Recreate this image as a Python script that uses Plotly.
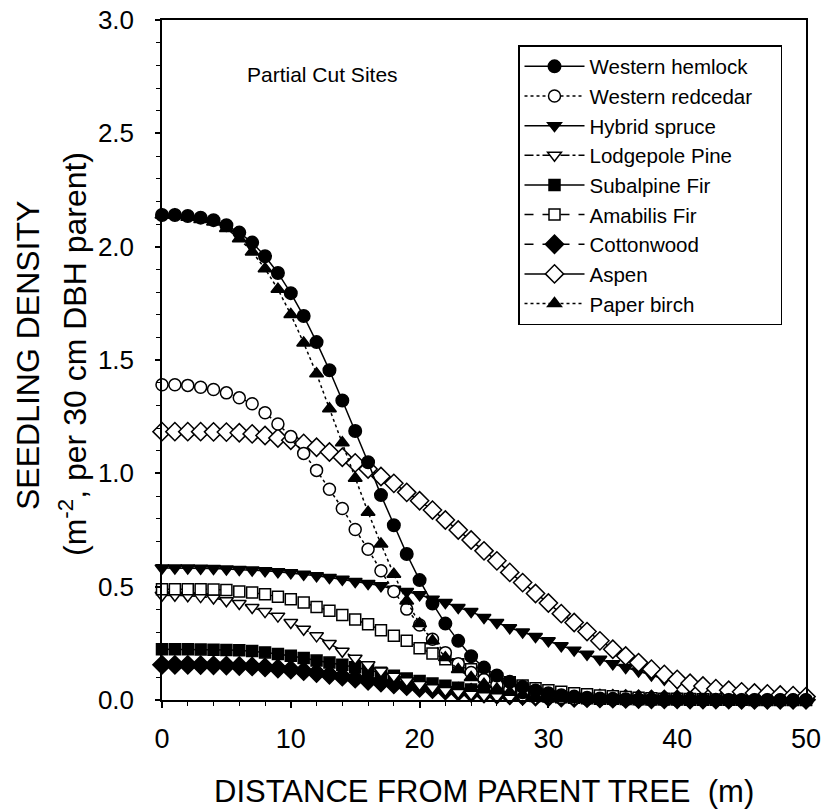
import plotly.graph_objects as go

distance = list(range(0, 51))

western_hemlock = [2.140, 2.140, 2.135, 2.128, 2.117, 2.095, 2.062, 2.018, 1.958, 1.884,
                   1.795, 1.694, 1.579, 1.455, 1.321, 1.187, 1.049, 0.904, 0.771, 0.644,
                   0.529, 0.426, 0.337, 0.261, 0.193, 0.143, 0.108, 0.080, 0.058, 0.042,
                   0.030, 0.021, 0.015, 0.010, 0.007, 0.005, 0.003, 0.002, 0.002, 0.001,
                   0.001, 0.001, 0.001, 0.001, 0.000, 0.000, 0.000, 0.000, 0.000, 0.000, 0.000]
western_redcedar = [1.391, 1.391, 1.388, 1.380, 1.370, 1.355, 1.333, 1.307, 1.267, 1.218,
                    1.162, 1.088, 1.013, 0.930, 0.845, 0.752, 0.665, 0.570, 0.479, 0.401,
                    0.331, 0.268, 0.209, 0.160, 0.121, 0.090, 0.066, 0.047, 0.033, 0.023,
                    0.016, 0.011, 0.007, 0.005, 0.003, 0.002, 0.001, 0.001, 0.001, 0.001,
                    0.000, 0.000, 0.000, 0.000, 0.000, 0.000, 0.000, 0.000, 0.000, 0.000, 0.000]
hybrid_spruce = [0.582, 0.582, 0.582, 0.581, 0.580, 0.578, 0.576, 0.573, 0.570, 0.566,
                 0.561, 0.555, 0.548, 0.540, 0.533, 0.523, 0.514, 0.504, 0.489, 0.479,
                 0.464, 0.445, 0.430, 0.408, 0.390, 0.364, 0.342, 0.319, 0.300, 0.280,
                 0.261, 0.239, 0.220, 0.202, 0.180, 0.160, 0.143, 0.128, 0.110, 0.091,
                 0.076, 0.062, 0.050, 0.040, 0.033, 0.027, 0.022, 0.018, 0.015, 0.012, 0.010]
lodgepole_pine = [0.462, 0.462, 0.460, 0.456, 0.450, 0.438, 0.426, 0.408, 0.390, 0.370,
                  0.342, 0.312, 0.283, 0.249, 0.215, 0.184, 0.155, 0.128, 0.105, 0.085,
                  0.068, 0.054, 0.042, 0.033, 0.025, 0.019, 0.014, 0.010, 0.008, 0.006,
                  0.004, 0.003, 0.002, 0.001, 0.001, 0.001, 0.001, 0.000, 0.000, 0.000,
                  0.000, 0.000, 0.000, 0.000, 0.000, 0.000, 0.000, 0.000, 0.000, 0.000, 0.000]
subalpine_fir = [0.224, 0.224, 0.224, 0.223, 0.222, 0.221, 0.219, 0.216, 0.210, 0.203,
                 0.195, 0.185, 0.174, 0.165, 0.155, 0.144, 0.132, 0.120, 0.107, 0.095,
                 0.084, 0.073, 0.063, 0.054, 0.046, 0.039, 0.033, 0.027, 0.022, 0.018,
                 0.015, 0.012, 0.010, 0.008, 0.006, 0.005, 0.004, 0.003, 0.002, 0.002,
                 0.002, 0.001, 0.001, 0.001, 0.001, 0.001, 0.000, 0.000, 0.000, 0.000, 0.000]
amabilis_fir = [0.489, 0.489, 0.489, 0.489, 0.488, 0.485, 0.479, 0.474, 0.467, 0.455,
                0.445, 0.430, 0.410, 0.394, 0.375, 0.355, 0.334, 0.308, 0.283, 0.261,
                0.228, 0.205, 0.180, 0.158, 0.136, 0.114, 0.096, 0.078, 0.064, 0.052,
                0.043, 0.036, 0.030, 0.025, 0.020, 0.016, 0.013, 0.010, 0.008, 0.006,
                0.005, 0.004, 0.003, 0.003, 0.002, 0.002, 0.002, 0.002, 0.002, 0.002, 0.002]
cottonwood = [0.155, 0.155, 0.155, 0.154, 0.153, 0.152, 0.150, 0.148, 0.144, 0.139,
              0.134, 0.127, 0.119, 0.111, 0.103, 0.094, 0.085, 0.077, 0.069, 0.061,
              0.054, 0.048, 0.042, 0.037, 0.032, 0.028, 0.024, 0.021, 0.018, 0.015,
              0.013, 0.011, 0.009, 0.008, 0.007, 0.006, 0.005, 0.004, 0.003, 0.003,
              0.003, 0.002, 0.002, 0.002, 0.002, 0.001, 0.001, 0.001, 0.001, 0.001, 0.001]
aspen = [1.184, 1.184, 1.184, 1.184, 1.183, 1.182, 1.179, 1.174, 1.167, 1.156,
         1.146, 1.132, 1.115, 1.094, 1.071, 1.046, 1.019, 0.986, 0.956, 0.916,
         0.879, 0.838, 0.794, 0.750, 0.706, 0.658, 0.614, 0.563, 0.518, 0.470,
         0.428, 0.381, 0.342, 0.302, 0.261, 0.224, 0.194, 0.165, 0.136, 0.113,
         0.091, 0.074, 0.062, 0.050, 0.043, 0.036, 0.031, 0.027, 0.022, 0.019, 0.015]
paper_birch = [2.140, 2.140, 2.130, 2.120, 2.109, 2.080, 2.035, 1.977, 1.903, 1.812,
               1.701, 1.575, 1.439, 1.285, 1.135, 0.978, 0.828, 0.688, 0.555, 0.437,
               0.337, 0.261, 0.187, 0.135, 0.099, 0.070, 0.049, 0.034, 0.023, 0.016,
               0.011, 0.007, 0.005, 0.003, 0.002, 0.001, 0.001, 0.001, 0.000, 0.000,
               0.000, 0.000, 0.000, 0.000, 0.000, 0.000, 0.000, 0.000, 0.000, 0.000, 0.000]

FONT = "Liberation Sans, Arial, Helvetica, sans-serif"

# (name, values, symbol, filled, dash, marker size, legend rank)
series = [
    ("Cottonwood", cottonwood, "diamond", True, "dash", 14, 7),
    ("Subalpine Fir", subalpine_fir, "square", True, "solid", 11, 5),
    ("Lodgepole Pine", lodgepole_pine, "triangle-down", False, "dashdot", 12, 4),
    ("Amabilis Fir", amabilis_fir, "square", False, "dash", 11, 6),
    ("Hybrid spruce", hybrid_spruce, "triangle-down", True, "solid", 12, 3),
    ("Aspen", aspen, "diamond", False, "solid", 14, 8),
    ("Western redcedar&nbsp;&nbsp;&nbsp;&nbsp;", western_redcedar, "circle", False, "dot", 12, 2),
    ("Paper birch", paper_birch, "triangle-up", True, "dot", 12, 9),
    ("Western hemlock", western_hemlock, "circle", True, "solid", 12.5, 1),
]

fig = go.Figure()
for name, vals, sym, filled, dash, size, rank in series:
    fig.add_trace(go.Scatter(
        x=distance, y=vals, name=name, mode="lines+markers",
        line=dict(color="black", width=1.5, dash=dash),
        marker=dict(symbol=sym, size=size, color="black" if filled else "white",
                    line=dict(color="black", width=1.5)),
        legendrank=rank, cliponaxis=False,
    ))

W, H = 822, 812
PL, PR, PT, PB = 162, 806, 20, 700   # plot area in page pixels


def px_x(p):
    return (p - PL) / (PR - PL)


def px_y(p):
    return (PB - p) / (PB - PT)


fig.update_layout(
    width=W, height=H,
    margin=dict(l=PL, r=W - PR, t=PT, b=H - PB, autoexpand=False),
    paper_bgcolor="white", plot_bgcolor="white",
    font=dict(family=FONT, color="black", size=20),
    showlegend=True,
    legend=dict(
        x=px_x(518), y=px_y(45), xanchor="left", yanchor="top",
        bgcolor="white", bordercolor="black", borderwidth=1.5,
        font=dict(family=FONT, size=20.5, color="black"),
        itemwidth=60, tracegroupgap=0,
    ),
    xaxis=dict(
        range=[0, 50], tickvals=[0, 10, 20, 30, 40, 50],
        showline=True, linecolor="black", linewidth=1.5, mirror=True,
        ticks="outside", ticklen=6, tickwidth=1.5, tickcolor="black",
        minor=dict(dtick=2, ticks="outside", ticklen=4, tickwidth=1.2, tickcolor="black"),
        showgrid=False, zeroline=False, automargin=False,
        tickfont=dict(family=FONT, size=27), ticklabelstandoff=8,
        ticklabeloverflow="allow",
    ),
    yaxis=dict(
        range=[0, 3.0], tickvals=[0, 0.5, 1.0, 1.5, 2.0, 2.5, 3.0],
        tickformat=".1f",
        showline=True, linecolor="black", linewidth=1.5, mirror=True,
        ticks="outside", ticklen=5, tickwidth=1.5, tickcolor="black",
        minor=dict(dtick=0.1, ticks="outside", ticklen=4, tickwidth=1.2, tickcolor="black"),
        showgrid=False, zeroline=False, automargin=False,
        tickfont=dict(family=FONT, size=26), ticklabelstandoff=16,
        ticklabeloverflow="allow",
    ),
    annotations=[
        dict(text="Partial Cut Sites", x=px_x(245), y=px_y(74), xref="paper", yref="paper",
             xanchor="left", yanchor="middle", showarrow=False,
             font=dict(family=FONT, size=21)),
        dict(text="SEEDLING DENSITY", x=px_x(28), y=px_y(356), xref="paper", yref="paper",
             xanchor="center", yanchor="middle", textangle=-90, showarrow=False,
             font=dict(family=FONT, size=32)),
        dict(text="(m<sup>-2</sup>, per 30 cm DBH parent)", x=px_x(73), y=px_y(354),
             xref="paper", yref="paper",
             xanchor="center", yanchor="middle", textangle=-90, showarrow=False,
             font=dict(family=FONT, size=32)),
        dict(text="DISTANCE FROM PARENT TREE&nbsp;&nbsp;(m)", x=px_x(484), y=px_y(791),
             xref="paper", yref="paper", xanchor="center", yanchor="middle",
             showarrow=False, font=dict(family=FONT, size=31)),
    ],
)

# remove the default 8 px page margin so the figure fills the window exactly
fig.write_html(
    "out.html",
    config={"displayModeBar": False},
    post_script="document.body.style.margin='0px';"
                "document.documentElement.style.overflow='hidden';",
)
